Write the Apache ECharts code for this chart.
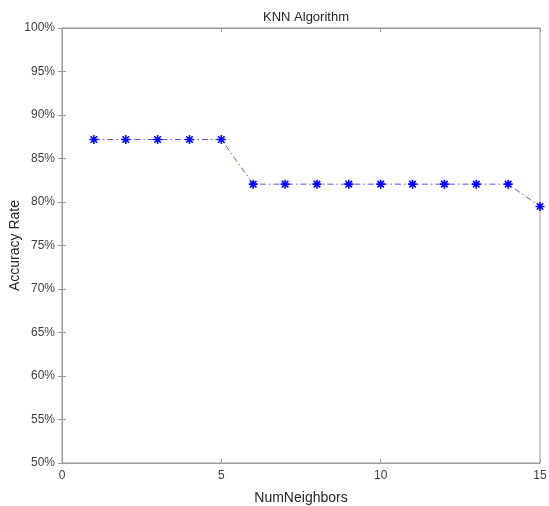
<!DOCTYPE html>
<html>
<head>
<meta charset="utf-8">
<script src="https://cdn.jsdelivr.net/npm/echarts@6/dist/echarts.min.js"></script>
<style>
html,body{margin:0;padding:0;background:#fff;}
#chart{width:549px;height:506px;}
</style>
</head>
<body>
<div id="chart"></div>
<script>
var neighbors = [1, 2, 3, 4, 5, 6, 7, 8, 9, 10, 11, 12, 13, 14, 15];
var accuracy = [87.18, 87.18, 87.18, 87.18, 87.18, 82.05, 82.05, 82.05, 82.05, 82.05, 82.05, 82.05, 82.05, 82.05, 79.49];
var titleText = 'KNN Algorithm';
var xName = 'NumNeighbors';
var yName = 'Accuracy Rate';

var chart = echarts.init(document.getElementById('chart'), null, {renderer: 'canvas'});
var font = 'Liberation Sans, Arial, Helvetica, sans-serif';
var frame = '#9a9a9a';
var labelColor = '#404040';

var pts = neighbors.map(function (n, i) { return [n, accuracy[i]]; });
var star = 'path://M0,-5L0,5M-5,0L5,0M-3.6,-3.6L3.6,3.6M-3.6,3.6L3.6,-3.6';

chart.setOption({
  animation: false,
  backgroundColor: '#fff',
  title: {
    text: titleText,
    left: 301, top: 6, textAlign: 'center',
    textStyle: {fontFamily: font, fontSize: 13, fontWeight: 'normal', color: '#262626'}
  },
  grid: {left: 62, right: 9, top: 28, bottom: 43, outerBoundsMode: 'none', containLabel: false,
         show: true, borderColor: frame, borderWidth: 1, backgroundColor: 'transparent'},
  xAxis: [{
    type: 'value', min: 0, max: 15, interval: 5,
    name: xName, nameLocation: 'middle', nameGap: 28, nameMoveOverlap: false,
    nameTextStyle: {fontFamily: font, fontSize: 14, color: '#262626'},
    axisLine: {show: true, lineStyle: {color: frame}},
    axisTick: {show: true, inside: true, length: 4, lineStyle: {color: frame}},
    axisLabel: {fontFamily: font, fontSize: 12, color: labelColor, margin: 7},
    splitLine: {show: false}
  }, {
    type: 'value', min: 0, max: 15, interval: 5, position: 'top',
    axisLine: {show: true, lineStyle: {color: frame}},
    axisTick: {show: true, inside: true, length: 4, lineStyle: {color: frame}},
    axisLabel: {show: false},
    splitLine: {show: false}
  }],
  yAxis: [{
    type: 'value', min: 50, max: 100, interval: 5,
    name: yName, nameLocation: 'middle', nameGap: 40, nameMoveOverlap: false,
    nameTextStyle: {fontFamily: font, fontSize: 14, color: '#262626'},
    axisLine: {show: true, lineStyle: {color: frame}},
    axisTick: {show: true, inside: true, length: 4, lineStyle: {color: frame}},
    axisLabel: {fontFamily: font, fontSize: 12, color: labelColor, margin: 7, formatter: '{value}%'},
    splitLine: {show: false}
  }, {
    type: 'value', min: 50, max: 100, interval: 5, position: 'right',
    axisLine: {show: true, lineStyle: {color: frame}},
    axisTick: {show: true, inside: true, length: 4, lineStyle: {color: frame}},
    axisLabel: {show: false},
    splitLine: {show: false}
  }],
  series: [{
    type: 'line',
    data: pts,
    xAxisIndex: 0, yAxisIndex: 0,
    symbol: star,
    symbolSize: 9,
    showAllSymbol: true,
    lineStyle: {color: '#5a5ad8', width: 1, type: [6, 3, 1.5, 3]},
    itemStyle: {color: '#0000ff', borderColor: '#0000ff', borderWidth: 1.6},
    z: 3
  }]
});
</script>
</body>
</html>
